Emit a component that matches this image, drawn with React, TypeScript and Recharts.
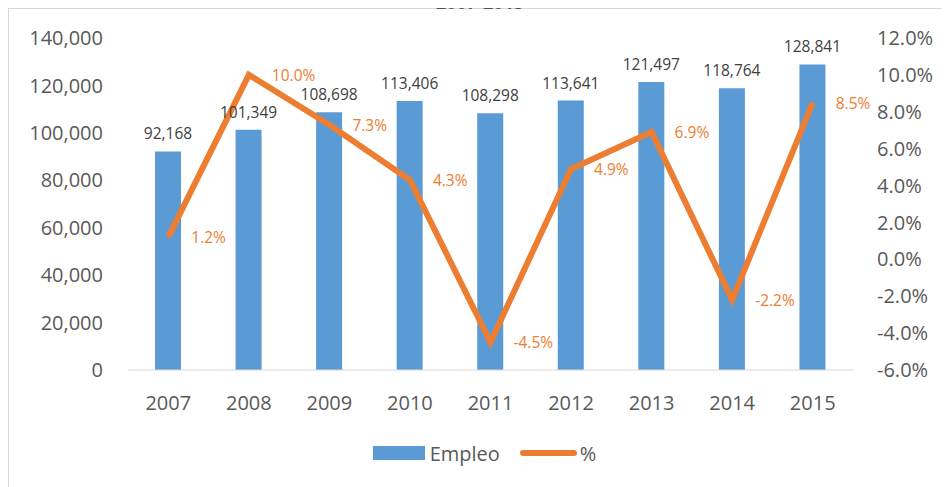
import { Bar, ComposedChart, LabelList, Legend, Line, XAxis, YAxis } from "recharts";

const years = ["2007", "2008", "2009", "2010", "2011", "2012", "2013", "2014", "2015"];
const empleo = [92168, 101349, 108698, 113406, 108298, 113641, 121497, 118764, 128841];
const variacion = [1.2, 10.0, 7.3, 4.3, -4.5, 4.9, 6.9, -2.2, 8.5];
const empleoTicks = [0, 20000, 40000, 60000, 80000, 100000, 120000, 140000];
const pctTicks = [-6, -4, -2, 0, 2, 4, 6, 8, 10, 12];

const data = years.map((year, i) => ({ year, empleo: empleo[i], pct: variacion[i] }));

const BLUE = "#5B9BD5";
const ORANGE = "#ED7D31";
const GRAY = "#595959";
const FONT = "'Open Sans', sans-serif";

const PctLabel = (props: any) => {
  const { x, y, value } = props;
  return (
    <text x={x + 23} y={y} dominantBaseline="central" fill={ORANGE} fontSize={15.5} fontFamily={FONT}>
      {`${Number(value).toFixed(1)}%`}
    </text>
  );
};

const LegendBox = () => (
  <div
    style={{
      height: 40,
      display: "flex",
      alignItems: "center",
      justifyContent: "center",
      fontFamily: FONT,
      fontSize: 20,
      color: GRAY,
      paddingLeft: 10,
    }}
  >
    <span style={{ width: 52, height: 14, background: BLUE, display: "inline-block", marginRight: 5 }} />
    <span style={{ marginRight: 20 }}>Empleo</span>
    <span
      style={{ width: 57, height: 6, borderRadius: 3, background: ORANGE, display: "inline-block", marginRight: 3 }}
    />
    <span>%</span>
  </div>
);

export default function App() {
  return (
    <div
      style={{
        position: "relative",
        width: 942,
        height: 479,
        borderTop: "1px solid #d9d9d9",
        borderLeft: "1px solid #d9d9d9",
      }}
    >
      {/* title sits mostly above the visible area, as in the reference */}
      <div
        style={{
          position: "absolute",
          top: -17,
          left: 0,
          width: 942,
          textAlign: "center",
          fontFamily: FONT,
          fontWeight: 700,
          fontSize: 18,
          lineHeight: "20px",
          color: "#44546A",
        }}
      >
        2007-2015
      </div>
      <ComposedChart width={941} height={478} data={data} margin={{ top: 29, right: 0, left: 0, bottom: 14 }}>
        <XAxis
          dataKey="year"
          axisLine={{ stroke: "#d9d9d9" }}
          tickLine={false}
          tickMargin={20}
          tick={{ fill: GRAY, fontSize: 20, fontFamily: FONT }}
          height={63}
        />
        <YAxis
          yAxisId="left"
          width={119}
          domain={[0, 140000]}
          ticks={empleoTicks}
          axisLine={false}
          tickLine={false}
          tickMargin={19}
          tick={{ fill: GRAY, fontSize: 20, fontFamily: FONT }}
          tickFormatter={(v: number) => v.toLocaleString("en-US")}
        />
        <YAxis
          yAxisId="right"
          orientation="right"
          width={97}
          domain={[-6, 12]}
          ticks={pctTicks}
          axisLine={false}
          tickLine={false}
          tickMargin={18}
          tick={{ fill: GRAY, fontSize: 20, fontFamily: FONT, textAnchor: "start" }}
          tickFormatter={(v: number) => `${v.toFixed(1)}%`}
        />
        <Legend verticalAlign="bottom" height={40} content={<LegendBox />} />
        <Bar yAxisId="left" dataKey="empleo" name="Empleo" fill={BLUE} barSize={26} isAnimationActive={false}>
          <LabelList
            dataKey="empleo"
            position="top"
            offset={12}
            fill="#404040"
            fontSize={15.5}
            fontFamily={FONT}
            formatter={(v: any) => Number(v).toLocaleString("en-US")}
          />
        </Bar>
        <Line
          yAxisId="right"
          dataKey="pct"
          name="%"
          stroke={ORANGE}
          strokeWidth={6}
          dot={false}
          isAnimationActive={false}
        >
          <LabelList dataKey="pct" content={<PctLabel />} />
        </Line>
      </ComposedChart>
    </div>
  );
}
